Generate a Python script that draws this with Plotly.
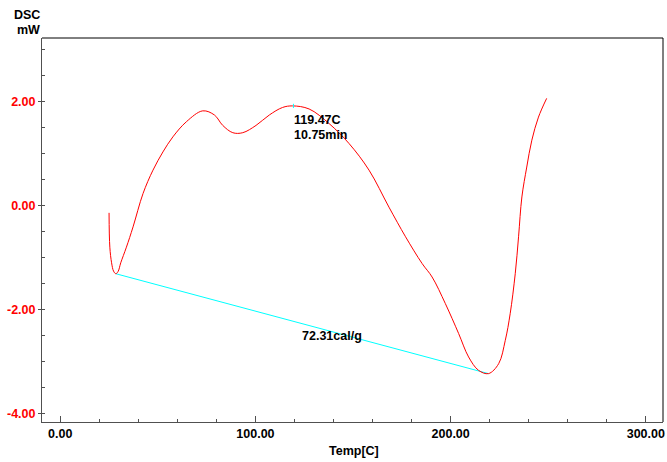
import plotly.graph_objects as go

# DSC curve (Temp [C], mW)
temp = [25.0, 25.4, 26.3, 27.3, 28.45, 29.6, 31.0, 33.9, 37.3, 42.4, 47.5, 52.6, 57.7, 64.6,
        73.0, 79.0, 83.25, 88.4, 93.5, 100.3, 107.1, 113.9, 119.0, 127.5, 137.7,
        148.0, 158.2, 168.4, 176.9, 185.4, 190.5, 197.3, 204.1, 209.2, 214.3,
        219.4, 224.6, 228.0, 230.5, 233.1, 234.8, 236.5, 239.0, 241.6, 245.0, 249.2]
dsc = [-0.14, -0.80, -1.10, -1.26, -1.31, -1.27, -1.10, -0.80, -0.41, 0.23, 0.68, 1.03, 1.32, 1.61,
       1.82, 1.74, 1.54, 1.40, 1.40, 1.54, 1.74, 1.885, 1.915, 1.856, 1.577,
       1.19, 0.68, -0.03, -0.60, -1.115, -1.373, -1.885, -2.46, -2.91, -3.167,
       -3.23, -3.04, -2.59, -2.08, -1.31, -0.60, 0.165, 0.74, 1.256, 1.70, 2.06]

# baseline for the peak integration
base_t = [28.45, 219.4]
base_v = [-1.31, -3.23]

peak_t = [119.47, 119.47]
peak_v = [1.875, 1.955]

x_ticks = [0, 100, 200, 300]
x_labels = ["0.00", "100.00", "200.00", "300.00"]
y_ticks = [2, 0, -2, -4]
y_labels = ["2.00", "0.00", "-2.00", "-4.00"]

FONT = "Liberation Sans"

fig = go.Figure()
fig.add_trace(go.Scatter(x=base_t, y=base_v, mode="lines",
                         line=dict(color="#00ffff", width=1), hoverinfo="skip"))
fig.add_trace(go.Scatter(x=temp, y=dsc, mode="lines",
                         line=dict(color="#ff0000", width=1, shape="spline", smoothing=1.0)))
fig.add_trace(go.Scatter(x=peak_t, y=peak_v, mode="lines",
                         line=dict(color="#00ffff", width=1), hoverinfo="skip"))

fig.update_layout(
    width=667, height=462,
    margin=dict(l=42, r=2, t=38, b=40),
    paper_bgcolor="white", plot_bgcolor="white",
    showlegend=False,
    font=dict(family=FONT, size=12.5, color="black", weight="bold"),
)

fig.update_xaxes(
    range=[-9.35, 308.8], showgrid=False, zeroline=False,
    showline=True, linecolor="#505050", linewidth=1,
    tickmode="array", tickvals=x_ticks, ticktext=x_labels,
    ticks="inside", ticklen=6, tickcolor="#505050",
    tickfont=dict(family=FONT, size=12.5, color="black", weight="bold"),
    minor=dict(ticks="inside", ticklen=3, dtick=20, tickcolor="#505050", showgrid=False),
)
fig.update_yaxes(
    range=[-4.16, 3.22], showgrid=False, zeroline=False,
    showline=True, linecolor="#505050", linewidth=1,
    tickmode="array", tickvals=y_ticks, ticktext=y_labels,
    ticks="outside", ticklen=3, tickcolor="#505050",
    tickfont=dict(family=FONT, size=12.5, color="#ff0000", weight="bold"),
    minor=dict(ticks="inside", ticklen=3, dtick=0.5, tickcolor="#505050", showgrid=False),
)

# top and right frame
fig.add_shape(type="line", xref="paper", yref="paper", x0=0, x1=1, y0=1, y1=1,
              line=dict(color="black", width=1))
fig.add_shape(type="line", xref="paper", yref="paper", x0=1, x1=1, y0=0, y1=1,
              line=dict(color="black", width=1))

ann_font = dict(family=FONT, size=12.5, color="black", weight="bold")
fig.add_annotation(text="DSC", xref="paper", yref="paper", x=0, y=1.06,
                   xanchor="right", yanchor="middle", showarrow=False, font=ann_font)
fig.add_annotation(text="mW", xref="paper", yref="paper", x=0, y=1.021,
                   xanchor="right", yanchor="middle", showarrow=False, font=ann_font)
fig.add_annotation(text="Temp[C]", xref="x", yref="paper", x=150.5, y=-0.0764,
                   xanchor="center", yanchor="middle", showarrow=False, font=ann_font)
fig.add_annotation(text="119.47C", xref="x", yref="y", x=118.5, y=1.64,
                   xanchor="left", yanchor="middle", showarrow=False, font=ann_font)
fig.add_annotation(text="10.75min", xref="x", yref="y", x=118.5, y=1.35,
                   xanchor="left", yanchor="middle", showarrow=False, font=ann_font)
fig.add_annotation(text="72.31cal/g", xref="x", yref="y", x=139.1, y=-2.51,
                   xanchor="center", yanchor="middle", showarrow=False, font=ann_font)

fig.write_html("out.html")
